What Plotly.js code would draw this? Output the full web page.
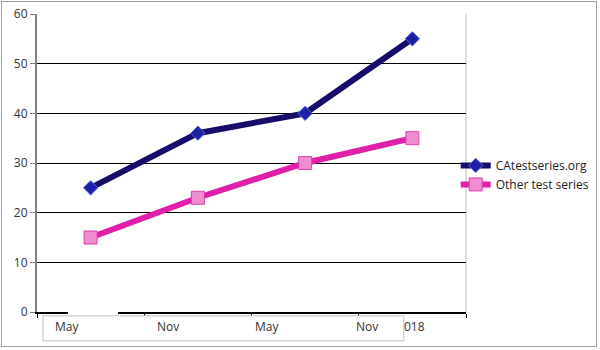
<!DOCTYPE html>
<html>
<head>
<meta charset="utf-8">
<script src="https://cdn.plot.ly/plotly-3.0.1.min.js"></script>
<style>
html,body{margin:0;padding:0;background:#fff;}
#wrap{position:relative;width:600px;height:350px;}
#chart{position:absolute;left:0;top:0;width:600px;height:350px;}
#frame{position:absolute;left:1px;top:1px;width:596px;height:346px;border:1px solid #A0A0A0;pointer-events:none;box-sizing:border-box;}
</style>
</head>
<body>
<div id="wrap"><div id="chart"></div><div id="frame"></div></div>
<script>
const categories = ["May 2017", "Nov 2017", "May 2018", "Nov 2018"];
const seriesNames = ["CAtestseries.org", "Other test series"];
const caValues = [25, 36, 40, 55];
const otherValues = [15, 23, 30, 35];
const axisLabels = ["May", "Nov", "May", "Nov", "018"];
const axisLabelPos = [0.070, 0.305, 0.536, 0.769, 0.881];

const traces = [
  {
    x: categories, y: caValues, name: seriesNames[0], type: "scatter", mode: "lines+markers",
    line: {color: "#160C6A", width: 6},
    marker: {symbol: "diamond", size: 11, color: "#1E1EA8", line: {color: "#4A6AD0", width: 1}}
  },
  {
    x: categories, y: otherValues, name: seriesNames[1], type: "scatter", mode: "lines+markers",
    line: {color: "#E020A8", width: 6},
    marker: {symbol: "square", size: 13, color: "#F08CD0", line: {color: "#E040B0", width: 1}}
  }
];

const annotations = axisLabels.map((t, i) => ({
  text: t, xref: "paper", yref: "paper", x: axisLabelPos[i], y: -0.05,
  xanchor: "center", yanchor: "middle", showarrow: false,
  font: {family: "Open Sans, sans-serif", size: 12, color: "#333333"}
}));

const layout = {
  width: 600, height: 350,
  margin: {l: 37, r: 134, t: 14, b: 38, autoexpand: false},
  paper_bgcolor: "#ffffff", plot_bgcolor: "#ffffff",
  showlegend: true,
  legend: {x: 0.976, y: 0.46, xanchor: "left", yanchor: "middle",
           font: {family: "Open Sans, sans-serif", size: 12, color: "#222222"},
           itemwidth: 30, tracegroupgap: 0, bgcolor: "rgba(0,0,0,0)"},
  xaxis: {
    type: "category", showticklabels: false, showgrid: false, zeroline: false,
    showline: true, linecolor: "#000000", linewidth: 2,
    ticks: "outside", tickson: "boundaries", ticklen: 4, tickcolor: "#000000",
    range: [-0.5, 3.5], fixedrange: true
  },
  yaxis: {
    range: [0, 60], dtick: 10, showgrid: true, gridcolor: "#000000", gridwidth: 1,
    zeroline: false, showline: true, linecolor: "#7F7F7F", linewidth: 2,
    ticks: "outside", ticklen: 5, tickcolor: "#7F7F7F",
    tickfont: {family: "Open Sans, sans-serif", size: 12, color: "#333333"},
    fixedrange: true
  },
  shapes: [
    {type: "line", xref: "paper", yref: "paper", x0: 1, x1: 1, y0: 0, y1: 1,
     line: {color: "#BFBFBF", width: 1}, layer: "below"},
    {type: "rect", xref: "paper", yref: "paper", x0: 0.072, x1: 0.189, y0: -0.012, y1: 0.008,
     fillcolor: "#ffffff", line: {width: 0}, layer: "above"},
    {type: "rect", xref: "paper", yref: "paper", x0: 0.014, x1: 0.855, y0: -0.097, y1: -0.013,
     fillcolor: "#ffffff", line: {color: "#C0C0C0", width: 1}, layer: "above"}
  ],
  annotations: annotations
};

Plotly.newPlot("chart", traces, layout, {displayModeBar: false, staticPlot: true});
</script>
</body>
</html>
